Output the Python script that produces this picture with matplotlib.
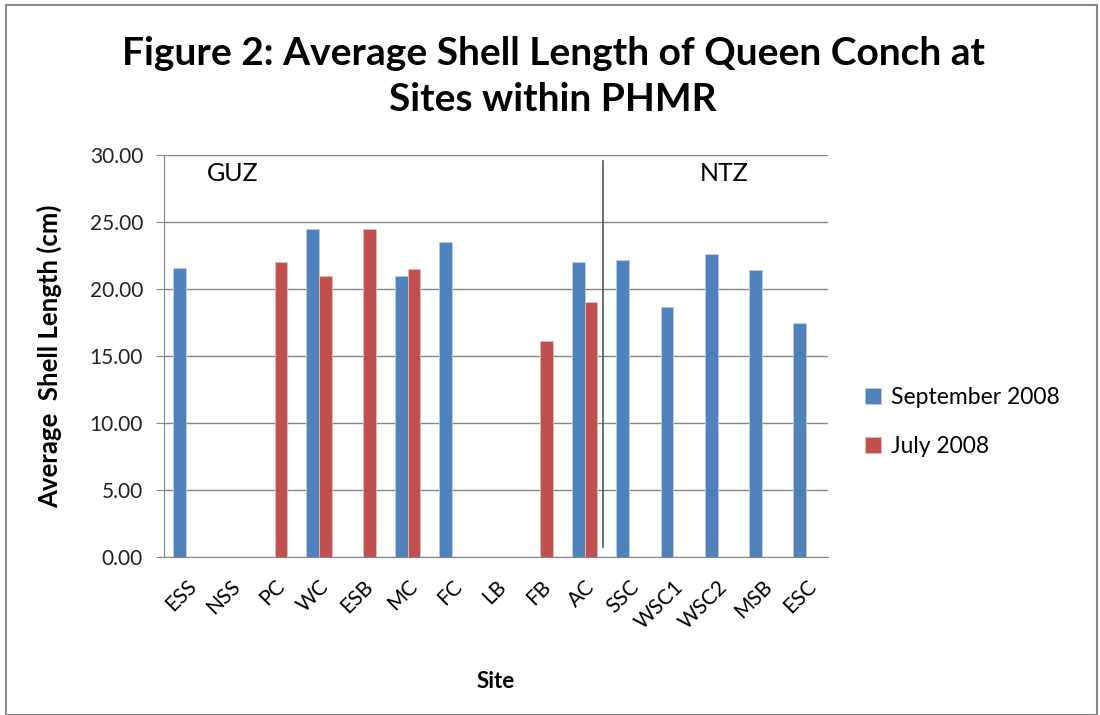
import numpy as np
import matplotlib
matplotlib.use("Agg")
import matplotlib.pyplot as plt
from matplotlib.patches import Rectangle

plt.rcParams['font.family'] = ['Lato', 'DejaVu Sans']

# data
sites = ["ESS", "NSS", "PC", "WC", "ESB", "MC", "FC", "LB", "FB", "AC",
         "SSC", "WSC1", "WSC2", "MSB", "ESC"]
sept_2008 = [21.6, np.nan, np.nan, 24.5, np.nan, 21.0, 23.5, np.nan, np.nan, 22.0,
             22.2, 18.65, 22.6, 21.4, 17.5]
july_2008 = [np.nan, np.nan, 22.0, 21.0, 24.5, 21.5, np.nan, np.nan, 16.1, 19.0,
             np.nan, np.nan, np.nan, np.nan, np.nan]
zone_labels = ["GUZ", "NTZ"]

blue = "#4F81BD"
red = "#C0504D"
grid_c = "#868686"

fig = plt.figure(figsize=(11, 7.15), dpi=100)
ax = fig.add_axes([0.149, 0.221, 0.604, 0.562])

x = np.arange(len(sites))
w = 1 / 3.5
ax.bar(x - w / 2, sept_2008, w, color=blue, edgecolor="#B9CDE5", linewidth=0.6,
       label="September 2008", zorder=3)
ax.bar(x + w / 2, july_2008, w, color=red, edgecolor="#E6B9B8", linewidth=0.6,
       label="July 2008", zorder=3)

ax.set_xlim(-0.5, len(sites) - 0.5)
ax.set_ylim(0, 30)
ax.set_yticks(np.arange(0, 31, 5))
ax.set_yticklabels(["%.2f" % v for v in np.arange(0, 31, 5)], fontsize=15, color="#222222")
ax.set_xticks(x)
ax.set_xticklabels(sites, rotation=45, ha="right", rotation_mode="anchor", fontsize=15)
ax.tick_params(axis="x", length=0, pad=14)
ax.tick_params(axis="y", length=6, color=grid_c, pad=9)
ax.yaxis.grid(True, color=grid_c, linewidth=1, zorder=0)
for s in ["top", "right"]:
    ax.spines[s].set_visible(False)
ax.spines["left"].set_color(grid_c)
ax.spines["bottom"].set_color(grid_c)

# zone divider and labels
ax.plot([9.42, 9.42], [0.75, 29.6], color="#555555", linewidth=1.2, zorder=4)
ax.text(1.05, 28.6, zone_labels[0], fontsize=18, va="center", ha="center")
ax.text(12.15, 28.6, zone_labels[1], fontsize=18, va="center", ha="center")

ax.set_ylabel("Average  Shell Length (cm)", fontsize=18.5, fontweight="bold", labelpad=20)
ax.set_xlabel("Site", fontsize=16, fontweight="bold", labelpad=28)

fig.text(0.503, 0.893, "Figure 2: Average Shell Length of Queen Conch at\nSites within PHMR",
         ha="center", va="center", fontsize=28, fontweight="bold", linespacing=1.4)

fig.legend(loc="center left", bbox_to_anchor=(0.768, 0.41), frameon=False, fontsize=16.5,
           handlelength=0.7, handleheight=0.7, handletextpad=0.4, labelspacing=1.2)

fig.add_artist(Rectangle((0.005, 0.0), 0.992, 0.993, transform=fig.transFigure,
                         fill=False, edgecolor="#888888", linewidth=1.5))

fig.savefig("out.png", dpi=100)
